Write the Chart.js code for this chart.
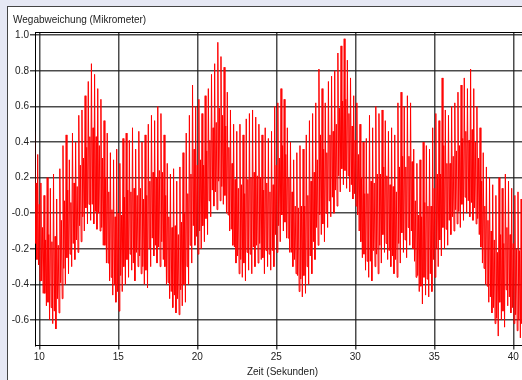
<!DOCTYPE html>
<html>
<head>
<meta charset="utf-8">
<script src="https://cdn.jsdelivr.net/npm/chart.js@4"></script>
<style>
  html, body { margin: 0; padding: 0; width: 522px; height: 380px; overflow: hidden; background: #e6e8f4; }
  .panel { position: absolute; left: 7px; top: 6px; width: 540px; height: 400px; background: #fff; border: 1px solid #444; }
  #chart { position: absolute; left: 0; top: 0; }
</style>
</head>
<body>
<div class="panel"></div>
<canvas id="chart" width="540" height="380"></canvas>
<script>
// One oscillation every 0.2 s, starting at 9.7 s; each one is sampled
// as spike top, low edge of the dense band, high edge of the band, trough.
const startTime = 9.7;
const cycleLength = 0.2;

// Spike tops (micrometres), five cycles per row
const tops = [
    0.46, 0.33, 0.17, 0.10, 0.20,
    0.14, 0.22, 0.08, 0.25, 0.38,
    0.44, 0.30, 0.45, 0.40, 0.55,
    0.58, 0.66, 0.74, 0.84, 0.78,
    0.70, 0.64, 0.52, 0.45, 0.34,
    0.30, 0.36, 0.28, 0.42, 0.45,
    0.41, 0.48, 0.36, 0.46, 0.40,
    0.44, 0.50, 0.55, 0.52, 0.60,
    0.56, 0.44, 0.28, 0.22, 0.25,
    0.18, 0.26, 0.34, 0.45, 0.55,
    0.72, 0.60, 0.64, 0.56, 0.66,
    0.70, 0.78, 0.84, 0.96, 0.88,
    0.82, 0.68, 0.58, 0.50, 0.46,
    0.50, 0.44, 0.53, 0.56, 0.58,
    0.54, 0.50, 0.44, 0.48, 0.42,
    0.46, 0.60, 0.62, 0.70, 0.64,
    0.48, 0.40, 0.30, 0.34, 0.38,
    0.36, 0.44, 0.52, 0.56, 0.62,
    0.81, 0.70, 0.62, 0.74, 0.77,
    0.80, 0.90, 0.94, 0.98, 0.86,
    0.76, 0.66, 0.62, 0.50, 0.40,
    0.42, 0.55, 0.48, 0.60, 0.56,
    0.58, 0.52, 0.46, 0.48, 0.44,
    0.62, 0.68, 0.60, 0.66, 0.62,
    0.36, 0.28, 0.30, 0.40, 0.38,
    0.36, 0.48, 0.56, 0.52, 0.76,
    0.58, 0.55, 0.60, 0.62, 0.68,
    0.72, 0.76, 0.70, 0.81, 0.70,
    0.60, 0.48, 0.34, 0.26, 0.20,
    0.16, 0.10, 0.20, 0.14, 0.22,
    0.18, 0.14, 0.10, 0.12, 0.08,
    0.06
];

// Lower edge of the dense band
const bandLow = [
    -0.17, -0.29, -0.38, -0.45, -0.50,
    -0.53, -0.55, -0.48, -0.39, -0.31,
    -0.25, -0.23, -0.17, -0.15, -0.07,
    -0.02, 0.03, 0.05, 0.05, 0.01,
    0.00, -0.08, -0.18, -0.28, -0.36,
    -0.40, -0.44, -0.35, -0.30, -0.26,
    -0.23, -0.28, -0.22, -0.24, -0.30,
    -0.32, -0.20, -0.14, -0.18, -0.19,
    -0.16, -0.30, -0.39, -0.44, -0.46,
    -0.48, -0.43, -0.40, -0.30, -0.18,
    -0.07, -0.13, -0.10, -0.07, -0.03,
    0.07, 0.13, 0.12, 0.18, 0.15,
    0.10, -0.01, -0.09, -0.19, -0.24,
    -0.26, -0.28, -0.22, -0.23, -0.19,
    -0.18, -0.17, -0.25, -0.21, -0.23,
    -0.21, -0.12, -0.07, -0.01, -0.05,
    -0.14, -0.22, -0.26, -0.35, -0.37,
    -0.35, -0.30, -0.24, -0.16, -0.08,
    -0.01, -0.06, 0.00, 0.07, 0.09,
    0.13, 0.21, 0.25, 0.24, 0.21,
    0.16, 0.11, -0.01, -0.16, -0.23,
    -0.27, -0.27, -0.21, -0.23, -0.18,
    -0.12, -0.17, -0.21, -0.24, -0.26,
    -0.17, -0.11, -0.15, -0.08, -0.10,
    -0.27, -0.35, -0.41, -0.36, -0.37,
    -0.34, -0.26, -0.20, -0.15, -0.08,
    -0.09, -0.04, -0.02, 0.02, 0.01,
    0.05, 0.09, 0.07, 0.06, 0.03,
    -0.03, -0.19, -0.31, -0.41, -0.47,
    -0.53, -0.59, -0.50, -0.55, -0.43,
    -0.47, -0.53, -0.57, -0.60, -0.62,
    -0.63
];

// Upper edge of the dense band
const bandHigh = [
    0.17, 0.05, -0.08, -0.15, -0.12,
    -0.16, -0.13, -0.18, -0.04, 0.07,
    0.13, 0.06, 0.17, 0.15, 0.27,
    0.31, 0.37, 0.43, 0.48, 0.43,
    0.38, 0.31, 0.20, 0.12, 0.02,
    -0.02, 0.00, -0.01, 0.09, 0.13,
    0.12, 0.14, 0.10, 0.14, 0.08,
    0.10, 0.18, 0.23, 0.20, 0.24,
    0.23, 0.10, -0.02, -0.08, -0.07,
    -0.12, -0.05, 0.00, 0.11, 0.22,
    0.36, 0.27, 0.30, 0.27, 0.35,
    0.41, 0.48, 0.51, 0.59, 0.55,
    0.49, 0.37, 0.28, 0.19, 0.14,
    0.16, 0.11, 0.19, 0.20, 0.23,
    0.21, 0.20, 0.13, 0.17, 0.12,
    0.16, 0.27, 0.31, 0.38, 0.33,
    0.20, 0.12, 0.04, 0.03, 0.04,
    0.04, 0.10, 0.18, 0.23, 0.30,
    0.44, 0.36, 0.34, 0.44, 0.46,
    0.50, 0.59, 0.63, 0.64, 0.56,
    0.49, 0.41, 0.33, 0.20, 0.11,
    0.11, 0.18, 0.17, 0.22, 0.22,
    0.26, 0.21, 0.16, 0.15, 0.12,
    0.26, 0.32, 0.26, 0.32, 0.29,
    0.07, -0.01, -0.02, 0.06, 0.04,
    0.04, 0.14, 0.22, 0.22, 0.38,
    0.28, 0.28, 0.32, 0.35, 0.38,
    0.42, 0.46, 0.41, 0.47, 0.40,
    0.31, 0.18, 0.04, -0.04, -0.10,
    -0.15, -0.22, -0.12, -0.17, -0.08,
    -0.12, -0.17, -0.20, -0.21, -0.24,
    -0.25
];

// Troughs
const troughs = [
    -0.26, -0.38, -0.45, -0.52, -0.60,
    -0.62, -0.65, -0.56, -0.48, -0.40,
    -0.34, -0.30, -0.26, -0.22, -0.16,
    -0.10, -0.06, -0.04, -0.06, -0.09,
    -0.10, -0.18, -0.28, -0.38, -0.46,
    -0.50, -0.55, -0.44, -0.40, -0.36,
    -0.32, -0.38, -0.30, -0.34, -0.40,
    -0.42, -0.30, -0.24, -0.28, -0.30,
    -0.26, -0.40, -0.48, -0.53, -0.56,
    -0.57, -0.52, -0.50, -0.40, -0.28,
    -0.18, -0.23, -0.20, -0.16, -0.12,
    -0.02, 0.04, 0.02, 0.07, 0.05,
    0.00, -0.10, -0.18, -0.28, -0.34,
    -0.36, -0.38, -0.32, -0.34, -0.30,
    -0.28, -0.26, -0.34, -0.30, -0.32,
    -0.30, -0.22, -0.16, -0.10, -0.14,
    -0.22, -0.30, -0.34, -0.44, -0.47,
    -0.45, -0.40, -0.34, -0.26, -0.18,
    -0.12, -0.16, -0.08, -0.02, 0.00,
    0.04, 0.12, 0.16, 0.14, 0.12,
    0.08, 0.04, -0.10, -0.25, -0.32,
    -0.36, -0.38, -0.30, -0.34, -0.28,
    -0.22, -0.26, -0.30, -0.34, -0.36,
    -0.28, -0.22, -0.25, -0.18, -0.20,
    -0.36, -0.44, -0.51, -0.46, -0.47,
    -0.44, -0.36, -0.30, -0.24, -0.20,
    -0.18, -0.12, -0.10, -0.06, -0.08,
    -0.04, 0.00, -0.02, -0.04, -0.06,
    -0.12, -0.28, -0.40, -0.50, -0.56,
    -0.62, -0.69, -0.60, -0.64, -0.52,
    -0.56, -0.62, -0.66, -0.70, -0.72,
    -0.72
];

const xTickValues = [10, 15, 20, 25, 30, 35, 40];
const xTickLabels = ['10', '15', '20', '25', '30', '35', '40'];
const yTickValues = [-0.6, -0.4, -0.2, 0, 0.2, 0.4, 0.6, 0.8, 1.0];
const yTickLabels = ['-0.6', '-0.4', '-0.2', '-0.0', '0.2', '0.4', '0.6', '0.8', '1.0'];

// four samples per cycle
const points = [];
tops.forEach((top, i) => {
    const t = startTime + i * cycleLength;
    const q = cycleLength / 4;
    points.push({ x: t, y: top });
    points.push({ x: t + q, y: bandLow[i] });
    points.push({ x: t + 2 * q, y: bandHigh[i] });
    points.push({ x: t + 3 * q, y: troughs[i] });
});

const font = { family: 'Liberation Sans', size: 10 };
const textColor = '#222';
const gridColor = 'rgba(30, 30, 30, 0.8)';

// frame line along the top of the plot and the heading above it
const frameAndHeading = {
    id: 'frameAndHeading',
    afterDraw(chart) {
        const { ctx, chartArea } = chart;
        ctx.save();
        ctx.strokeStyle = '#000';
        ctx.lineWidth = 1;
        ctx.beginPath();
        ctx.moveTo(chartArea.left, Math.round(chartArea.top) + 0.5);
        ctx.lineTo(chartArea.right, Math.round(chartArea.top) + 0.5);
        ctx.stroke();
        ctx.fillStyle = textColor;
        ctx.font = '10px "Liberation Sans"';
        ctx.textBaseline = 'alphabetic';
        ctx.fillText('Wegabweichung (Mikrometer)', 13, 22.5);
        ctx.restore();
    }
};

new Chart(document.getElementById('chart'), {
    type: 'line',
    data: {
        datasets: [{
            data: points,
            borderColor: '#ff0000',
            borderWidth: 1,
            pointRadius: 0,
            tension: 0,
            fill: false
        }]
    },
    options: {
        responsive: false,
        animation: false,
        layout: { padding: { left: 6, right: 10, top: 32, bottom: 0 } },
        plugins: {
            legend: { display: false },
            tooltip: { enabled: false },
            title: { display: false }
        },
        scales: {
            x: {
                type: 'linear',
                min: 9.728,
                max: 41.06,
                z: 1,
                afterBuildTicks: s => { s.ticks = xTickValues.map(v => ({ value: v })); },
                afterFit: s => { s.height = 34.5; },
                ticks: {
                    autoSkip: false,
                    maxRotation: 0,
                    padding: 2,
                    color: textColor,
                    font: font,
                    callback: (v, i) => xTickLabels[i]
                },
                grid: { color: gridColor, lineWidth: 1.5, tickLength: 4 },
                border: { display: true, color: '#000', width: 1 },
                title: {
                    display: true,
                    text: 'Zeit (Sekunden)',
                    color: textColor,
                    font: font,
                    padding: { top: 0, bottom: 2 }
                }
            },
            y: {
                type: 'linear',
                min: -0.743,
                max: 1.018,
                z: 1,
                afterBuildTicks: s => { s.ticks = yTickValues.map(v => ({ value: v })); },
                afterFit: s => { s.width = 29; },
                ticks: {
                    padding: 1,
                    color: textColor,
                    font: font,
                    callback: (v, i) => yTickLabels[i]
                },
                grid: { color: gridColor, lineWidth: 1.5, tickLength: 5 },
                border: { display: true, color: '#000', width: 1 }
            }
        }
    },
    plugins: [frameAndHeading]
});
</script>
</body>
</html>
